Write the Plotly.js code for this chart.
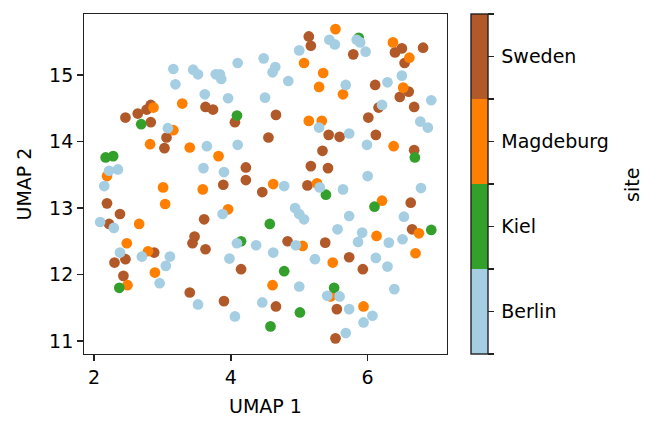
<!DOCTYPE html>
<html>
<head>
<meta charset="utf-8">
<script src="https://cdn.plot.ly/plotly-3.0.1.min.js"></script>
<style>
html,body{margin:0;padding:0;background:#fff;}
#chart{width:659px;height:432px;}
</style>
</head>
<body>
<div id="chart"></div>
<script>
// Site categories (colour order of the colorbar)
const sites = ['Berlin', 'Kiel', 'Magdeburg', 'Sweden'];
const siteColors = ['#a6cee3', '#33a02c', '#ff7f00', '#b15928'];

// UMAP coordinates, per site
const swedenX = [3.63,3.74,2.83,2.77,2.64,2.46,2.83,4.06,5.14,5.17,5.79,6.11,6.50,6.40,6.54,6.81,6.60,6.47,6.68,6.16,4.66,6.01,3.06,3.03,4.22,4.22,3.89,4.46,2.19,2.38,3.61,2.22,3.47,3.44,4.55,5.43,5.59,6.12,6.68,5.34,5.17,5.42,5.12,6.63,6.65,4.83,5.38,3.63,4.15,2.88,2.46,2.30,2.43,3.40,3.90,5.73,5.93,4.66,5.55,5.53];
const swedenY = [14.52,14.48,14.55,14.48,14.42,14.36,14.29,14.29,15.58,15.44,15.31,14.85,15.40,15.34,15.18,15.41,14.75,14.67,14.52,14.51,14.40,14.36,14.06,13.90,13.61,13.42,13.35,13.24,13.07,12.91,12.83,12.76,12.57,12.47,14.06,14.10,14.07,14.10,13.87,13.86,13.63,13.60,13.34,13.08,12.68,12.50,12.48,12.38,12.08,12.33,12.23,12.18,11.98,11.73,11.60,12.26,12.08,11.52,11.48,11.04];

const magdeburgX = [3.16,3.29,2.87,5.53,5.07,5.35,5.29,5.64,6.37,6.61,6.52,5.14,5.33,2.82,3.40,3.82,2.19,3.01,3.59,3.04,3.96,2.66,2.48,6.38,4.62,5.26,6.21,6.75,6.13,5.05,2.79,2.89,2.49,5.49,6.70,4.61,5.46,5.94];
const magdeburgY = [14.17,14.57,14.51,15.69,15.18,15.03,14.82,14.71,15.49,15.26,14.81,14.31,14.31,13.96,13.91,13.78,13.48,13.31,13.28,13.06,12.98,12.76,12.47,13.93,13.36,13.37,13.11,12.62,12.58,12.43,12.35,12.03,11.84,12.18,12.32,11.84,11.67,11.52];

const kielX = [2.69,4.09,2.17,2.28,4.15,6.69,5.39,6.10,4.57,6.93,2.37,4.78,5.51,5.01,4.58,5.87];
const kielY = [14.26,14.39,13.76,13.78,12.50,13.76,13.20,13.02,12.76,12.67,11.80,12.05,11.80,11.43,11.22,15.56];

const berlinX = [3.16,3.19,3.45,3.52,3.78,3.84,3.86,4.10,4.48,3.62,3.96,4.50,3.08,5.44,5.52,5.84,5.89,5.97,5.00,4.65,4.61,4.84,5.68,6.29,6.50,6.93,6.21,5.29,6.77,6.88,3.65,4.10,2.22,2.35,2.15,3.60,3.90,3.88,2.09,2.29,4.09,4.37,5.73,5.99,6.00,4.78,5.30,5.64,6.78,4.94,5.00,5.07,5.73,6.53,5.56,5.92,6.51,6.31,5.86,4.95,3.98,2.38,2.70,3.11,3.05,2.96,3.52,4.06,4.46,4.62,5.23,6.12,6.29,5.00,6.39,5.41,5.59,5.73,6.07,5.94,5.68];
const berlinY = [15.09,14.86,15.08,15.01,15.01,15.01,14.94,15.18,15.25,14.71,14.65,14.66,14.20,15.53,15.46,15.53,15.49,15.35,15.37,15.12,15.04,14.91,14.85,14.89,14.99,14.62,14.55,14.21,14.30,14.21,13.93,13.95,13.56,13.58,13.33,13.60,13.54,12.91,12.79,12.70,12.47,12.44,14.12,13.95,13.48,13.33,13.31,13.28,13.30,13.00,12.91,12.83,12.88,12.87,12.68,12.63,12.53,12.48,12.49,12.44,12.24,12.33,12.27,12.27,12.13,11.87,11.55,11.37,11.58,12.33,12.23,12.25,12.12,11.82,11.78,11.68,11.67,11.48,11.38,11.28,11.12];

// Axis ticks
const xTicks = [2, 4, 6];
const yTicks = [11, 12, 13, 14, 15];

// Build one scatter (drawing order: Sweden, Magdeburg, Kiel, Berlin)
const groups = [
  {x: swedenX, y: swedenY, code: 3},
  {x: magdeburgX, y: magdeburgY, code: 2},
  {x: kielX, y: kielY, code: 1},
  {x: berlinX, y: berlinY, code: 0}
];
const X = [], Y = [], C = [];
groups.forEach(g => {
  g.x.forEach((v, i) => { X.push(v); Y.push(g.y[i]); C.push(g.code); });
});

const n = sites.length;
const colorscale = [];
siteColors.forEach((c, i) => {
  colorscale.push([i / n, c]);
  colorscale.push([(i + 1) / n, c]);
});
const cbTickvals = [], cbTicktext = [];
for (let i = 0; i < n; i++) {
  cbTickvals.push(i - 0.5); cbTicktext.push('');
  cbTickvals.push(i); cbTicktext.push('\u2009' + sites[i]);
}
cbTickvals.push(n - 0.5); cbTicktext.push('');

const font = {family: 'DejaVu Sans, sans-serif', size: 19, color: '#000'};

const trace = {
  type: 'scatter',
  mode: 'markers',
  x: X, y: Y,
  hoverinfo: 'skip',
  marker: {
    size: 10.7,
    color: C,
    cmin: -0.5, cmax: n - 0.5,
    colorscale: colorscale,
    line: {width: 0},
    showscale: true,
    colorbar: {
      x: 1.066, xanchor: 'left', xref: 'paper',
      y: 0.5, yanchor: 'middle',
      len: 1, lenmode: 'fraction',
      thickness: 17, thicknessmode: 'pixels',
      xpad: 0, ypad: 0,
      outlinewidth: 1.4, outlinecolor: '#222',
      ticks: 'outside', ticklen: 5.5, tickwidth: 1.4, tickcolor: '#222',
      tickmode: 'array', tickvals: cbTickvals, ticktext: cbTicktext,
      tickfont: font
    }
  }
};

const axisCommon = {
  showgrid: false, zeroline: false,
  showline: true, mirror: true, linecolor: '#222', linewidth: 1.4,
  ticks: 'outside', ticklen: 5.5, tickwidth: 1.4, tickcolor: '#222',
  tickfont: font
};

const layout = {
  width: 659, height: 432,
  margin: {l: 84, r: 212, t: 14, b: 78},
  paper_bgcolor: '#fff', plot_bgcolor: '#fff',
  font: font,
  showlegend: false,
  xaxis: Object.assign({}, axisCommon, {
    range: [1.854, 7.16], tickmode: 'array', tickvals: xTicks,
    automargin: false,
    title: {text: 'UMAP 1', font: font, standoff: 13}
  }),
  yaxis: Object.assign({}, axisCommon, {
    range: [10.805, 15.917], tickmode: 'array', tickvals: yTicks,
    automargin: false,
    title: {text: 'UMAP 2', font: font, standoff: 12}
  }),
  annotations: [{
    text: 'site', xref: 'paper', yref: 'paper',
    x: (632 - 84) / 363, y: 1 - (185 - 14) / 340, xanchor: 'center', yanchor: 'middle',
    textangle: -90, showarrow: false, font: font
  }]
};

Plotly.newPlot('chart', [trace], layout, {displayModeBar: false, staticPlot: true});
</script>
</body>
</html>
